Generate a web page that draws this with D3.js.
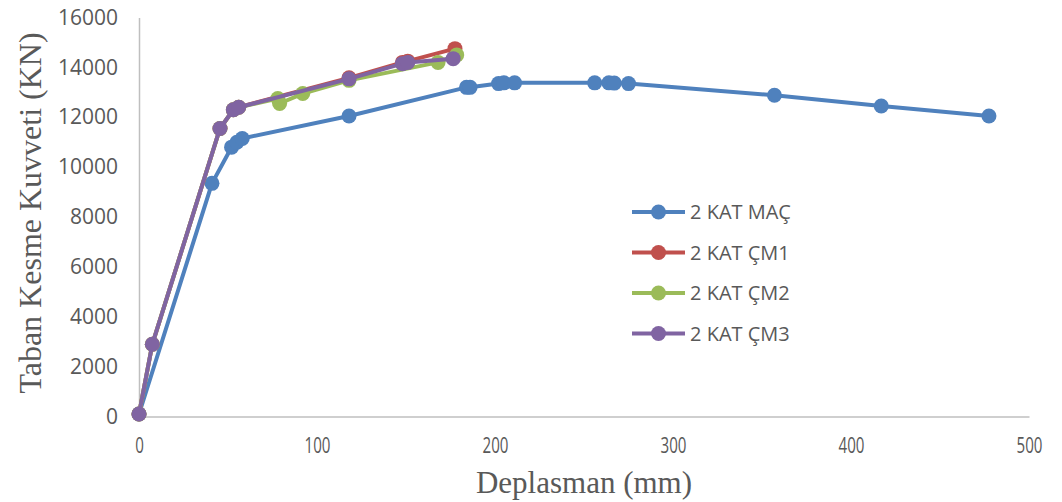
<!DOCTYPE html>
<html>
<head>
<meta charset="utf-8">
<script src="https://cdn.jsdelivr.net/npm/d3@7"></script>
<style>
  body { margin: 0; background: #fff; }
  svg { display: block; }
  .tick text { fill: #595959; font-family: "Open Sans", sans-serif; }
</style>
</head>
<body>
<svg id="chart" width="1062" height="502"></svg>
<script>
// Deplasman (mm) / Taban Kesme Kuvveti (KN) for each series
var seriesNames = ["2 KAT MAÇ", "2 KAT ÇM1", "2 KAT ÇM2", "2 KAT ÇM3"];
var seriesColors = ["#4f81bd", "#c0504d", "#9bbb59", "#8064a2"];

var macX = [0, 41, 52, 55, 58, 118, 184, 186, 202, 205, 211, 256, 264, 267, 275, 357, 417, 477.5];
var macY = [100, 9350, 10800, 11000, 11150, 12050, 13200, 13200, 13350, 13380, 13380, 13380, 13380, 13370, 13350, 12880, 12450, 12050];

var cm1X = [0, 7.5, 45.5, 53, 56, 118, 148, 151, 177.5];
var cm1Y = [100, 2900, 11550, 12300, 12400, 13580, 14200, 14250, 14750];

var cm2X = [0, 7.5, 45.5, 53, 56, 78, 79, 92, 118, 168, 178.5];
var cm2Y = [100, 2900, 11550, 12300, 12400, 12750, 12550, 12950, 13480, 14200, 14500];

var cm3X = [0, 7.5, 45.5, 53, 56, 118, 148, 151, 176.5];
var cm3Y = [100, 2900, 11550, 12300, 12400, 13540, 14150, 14200, 14350];

var xTicks = [0, 100, 200, 300, 400, 500];
var yTicks = [0, 2000, 4000, 6000, 8000, 10000, 12000, 14000, 16000];

function zip(xs, ys) {
    return xs.map(function (x, i) { return {x: x, y: ys[i]}; });
}
var series = [zip(macX, macY), zip(cm1X, cm1Y), zip(cm2X, cm2Y), zip(cm3X, cm3Y)];

var svg = d3.select("#chart");
var x = d3.scaleLinear().domain([0, 500]).range([139, 1029]);
var y = d3.scaleLinear().domain([0, 16000]).range([416.5, 17.5]);

// Axes
var xAxis = svg.append('g')
    .attr('transform', "translate(0," + y(0) + ")")
    .call(d3.axisBottom(x).tickValues(xTicks).tickSize(0).tickPadding(22));
xAxis.select('.domain').attr('stroke', "#bfbfbf").attr('stroke-width', 1.5);
xAxis.selectAll('text')
    .attr('font-size', "21px")
    .attr('transform', "scale(0.72,1)");

var yAxis = svg.append('g')
    .attr('transform', "translate(" + x(0) + ",0)")
    .call(d3.axisLeft(y).tickValues(yTicks).tickFormat(d3.format("d")).tickSize(0).tickPadding(21));
yAxis.select('.domain').attr('stroke', "#bfbfbf").attr('stroke-width', 1.5);
yAxis.selectAll('text').attr('font-size', "21px");

// Axis titles
svg.append('text')
    .text("Taban Kesme Kuvveti (KN)")
    .attr('transform', "translate(41, 213) rotate(-90)")
    .attr('text-anchor', "middle")
    .attr('font-family', "Liberation Serif, serif")
    .attr('font-size', "32px")
    .attr('fill', "#595959");
svg.append('text')
    .text("Deplasman (mm)")
    .attr('x', 584).attr('y', 493)
    .attr('text-anchor', "middle")
    .attr('font-family', "Liberation Serif, serif")
    .attr('font-size', "31px")
    .attr('fill', "#595959");

// Series
var line = d3.line().x(function (d) { return x(d.x); }).y(function (d) { return y(d.y); });
var groups = svg.selectAll('g.series').data(series).enter()
    .append('g').attr('class', "series");
groups.append('path')
    .attr('d', line)
    .attr('fill', "none")
    .attr('stroke', function (d, i) { return seriesColors[i]; })
    .attr('stroke-width', 4)
    .attr('stroke-linejoin', "round");
groups.each(function (d, i) {
    d3.select(this).selectAll('circle').data(d).enter()
        .append('circle')
        .attr('cx', function (p) { return x(p.x); })
        .attr('cy', function (p) { return y(p.y); })
        .attr('r', 7.5)
        .attr('fill', seriesColors[i]);
});

// Legend
var legend = svg.append('g').attr('transform', "translate(632, 212)");
var rows = legend.selectAll('g').data(seriesNames).enter()
    .append('g')
    .attr('transform', function (d, i) { return "translate(0," + (i * 40.5) + ")"; });
rows.append('line')
    .attr('x1', 0).attr('x2', 53).attr('y1', 0).attr('y2', 0)
    .attr('stroke', function (d, i) { return seriesColors[i]; })
    .attr('stroke-width', 4);
rows.append('circle')
    .attr('cx', 26.5).attr('cy', 0).attr('r', 7.5)
    .attr('fill', function (d, i) { return seriesColors[i]; });
rows.append('text')
    .text(function (d) { return d; })
    .attr('x', 58).attr('y', 7)
    .attr('font-family', "Open Sans, sans-serif")
    .attr('font-size', "20px")
    .attr('fill', "#595959");
</script>
</body>
</html>
